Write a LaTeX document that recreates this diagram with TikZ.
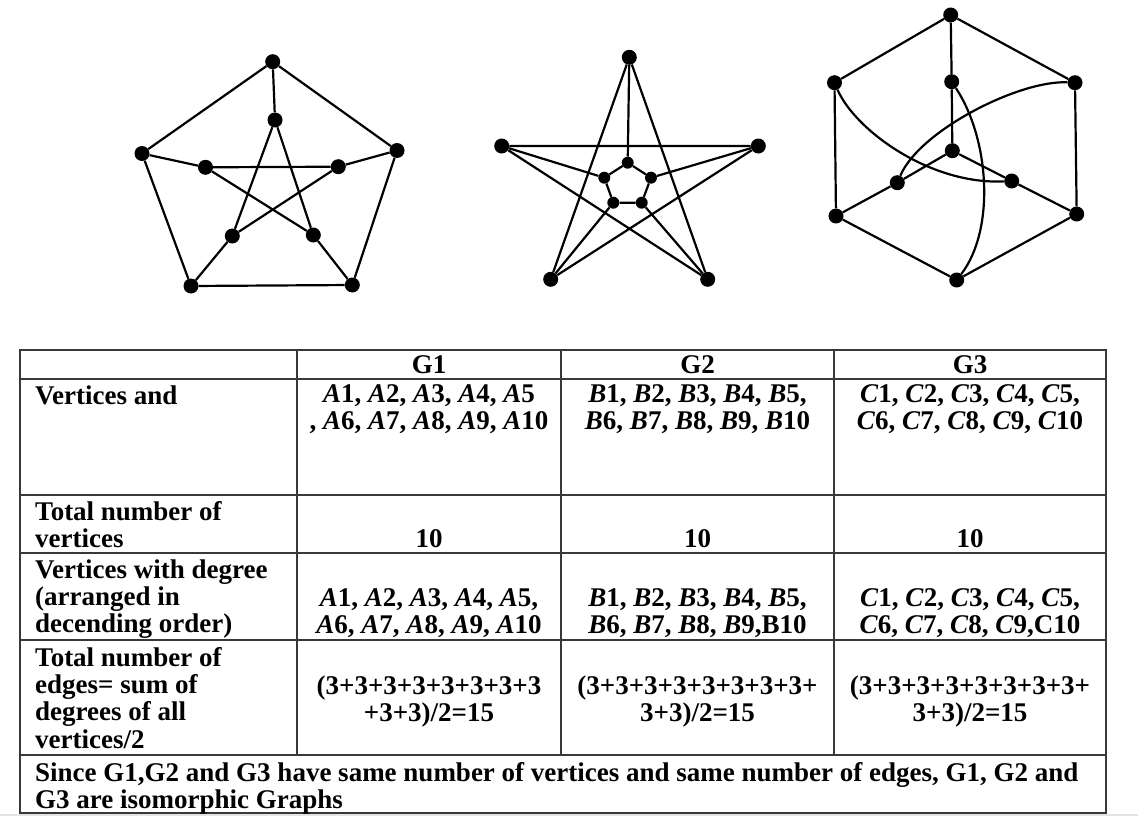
\documentclass[tikz,border=0pt]{standalone}
\usepackage{fontspec}
\setmainfont{Liberation Serif}
\newcommand\tabfont{\fontsize{27}{27.3}\selectfont\bfseries}
\newcommand\iv[2]{\textit{#1}#2}
\tikzset{
 dot/.style={circle,fill=black,inner sep=0pt,minimum size=15pt},
 sdot/.style={dot,minimum size=12pt},
 edge/.style={line width=2.2pt},
 gridline/.style={line width=1.5pt,draw=black!78},
 cell/.style={inner sep=0pt,anchor=north,align=center,font=\tabfont},
 lcell/.style={inner sep=0pt,anchor=north west,align=left,font=\tabfont},
}
\begin{document}
\begin{tikzpicture}[x=1pt,y=-1pt]
\useasboundingbox (0,0) rectangle (1138,816);
\fill[white] (0,0) rectangle (1138,816);
\fill[blue!8!gray!20] (0,813.5) rectangle (1138,816);

% ---------- G1 ----------
\node[dot] (a1) at (272.7,61.7) {};
\node[dot] (a2) at (142,153.5) {};
\node[dot] (a3) at (397,150.5) {};
\node[dot] (a4) at (191,286) {};
\node[dot] (a5) at (352.3,285) {};
\node[dot] (a6) at (275,120) {};
\node[dot] (a7) at (205.5,167.3) {};
\node[dot] (a8) at (338.3,166.7) {};
\node[dot] (a9) at (232.3,236) {};
\node[dot] (a10) at (313.3,235) {};
\draw[edge] (a1) -- (a2) (a1) -- (a3) (a2) -- (a4) (a3) -- (a5) (a4) -- (a5);
\draw[edge] (a1) -- (a6) (a2) -- (a7) (a3) -- (a8) (a4) -- (a9) (a5) -- (a10);
\draw[edge] (a6) -- (a9) (a6) -- (a10) (a7) -- (a8) (a7) -- (a10) (a8) -- (a9);

% ---------- G2 ----------
\node[dot] (b1) at (629.3,57.3) {};
\node[dot] (b2) at (501.7,146) {};
\node[dot] (b3) at (758.3,146) {};
\node[dot] (b4) at (550.7,279.3) {};
\node[dot] (b5) at (707.7,279.3) {};
\node[sdot] (b6) at (627.7,162.7) {};
\node[sdot] (b7) at (604.3,177.7) {};
\node[sdot] (b8) at (651,177.7) {};
\node[sdot] (b9) at (613.3,202.7) {};
\node[sdot] (b10) at (641.7,202.7) {};
\draw[edge] (b1) -- (b4) (b1) -- (b5) (b2) -- (b3) (b2) -- (b5) (b3) -- (b4);
\draw[edge] (b1) -- (b6) (b2) -- (b7) (b3) -- (b8) (b4) -- (b9) (b5) -- (b10);
\draw[edge] (b6) -- (b7) (b6) -- (b8) (b7) -- (b9) (b8) -- (b10) (b9) -- (b10);

% ---------- G3 ----------
\node[dot] (c1) at (950.7,15) {};
\node[dot] (c2) at (834.5,82.7) {};
\node[dot] (c3) at (1075,82.7) {};
\node[dot] (c4) at (836,216) {};
\node[dot] (c5) at (1076.7,214) {};
\node[dot] (c6) at (956.7,280) {};
\node[dot] (c7) at (951.7,81.7) {};
\node[dot] (c8) at (952.3,150.7) {};
\node[dot] (c9) at (897.3,182.7) {};
\node[dot] (c10) at (1011.7,181) {};
\draw[edge] (c1) -- (c2) (c1) -- (c3) (c2) -- (c4) (c3) -- (c5) (c4) -- (c6) (c5) -- (c6);
\draw[edge] (c1) -- (c7) (c7) -- (c8) (c8) -- (c9) (c8) -- (c10) (c9) -- (c4) (c10) -- (c5);
\draw[edge] (c2) .. controls (855,130) and (930,185) .. (c10);
\draw[edge] (c3) .. controls (1020,80) and (920,130) .. (c9);
\draw[edge] (c7) .. controls (990,140) and (995,230) .. (c6);

% ---------- table ----------
\draw[gridline] (20,350) rectangle (1106,813);
\foreach \yy in {379,495,553,640,755} \draw[gridline] (20,\yy) -- (1106,\yy);
\foreach \xx in {297,561,834} \draw[gridline] (\xx,350) -- (\xx,755);

\node[cell] (h1) at (429,353.9) {\strut G1};
\node[cell] (h2) at (697.5,353.9) {\strut G2};
\node[cell] (h3) at (970,353.9) {\strut G3};

\node[lcell] (l1) at (35,384.9) {\strut Vertices and};
\node[cell] (v11) at (429,382.9) {\strut\iv{A}1, \iv{A}2, \iv{A}3, \iv{A}4, \iv{A}5\\ , \iv{A}6, \iv{A}7, \iv{A}8, \iv{A}9, \iv{A}10};
\node[cell] (v12) at (697.5,382.9) {\strut\iv{B}1, \iv{B}2, \iv{B}3, \iv{B}4, \iv{B}5,\\ \iv{B}6, \iv{B}7, \iv{B}8, \iv{B}9, \iv{B}10};
\node[cell] (v13) at (970,382.9) {\strut\iv{C}1, \iv{C}2, \iv{C}3, \iv{C}4, \iv{C}5,\\ \iv{C}6, \iv{C}7, \iv{C}8, \iv{C}9, \iv{C}10};

\node[lcell] (l2) at (35,500.9) {\strut Total number of\\ vertices};
\node[cell] (v21) at (429,527.9) {\strut 10};
\node[cell] (v22) at (697.5,527.9) {\strut 10};
\node[cell] (v23) at (970,527.9) {\strut 10};

\node[lcell] (l3) at (35,558.9) {\strut Vertices with degree\\ (arranged in\\ decending order)};
\node[cell] (v31) at (429,586.9) {\strut\iv{A}1, \iv{A}2, \iv{A}3, \iv{A}4, \iv{A}5,\\ \iv{A}6, \iv{A}7, \iv{A}8, \iv{A}9, \iv{A}10};
\node[cell] (v32) at (697.5,586.9) {\strut\iv{B}1, \iv{B}2, \iv{B}3, \iv{B}4, \iv{B}5,\\ \iv{B}6, \iv{B}7, \iv{B}8, \iv{B}9,B10};
\node[cell] (v33) at (970,586.9) {\strut\iv{C}1, \iv{C}2, \iv{C}3, \iv{C}4, \iv{C}5,\\ \iv{C}6, \iv{C}7, \iv{C}8, \iv{C}9,C10};

\node[lcell] (l4) at (35,646.9) {\strut Total number of\\ edges= sum of\\ degrees of all\\ vertices/2};
\node[cell] (v41) at (429,674.9) {\strut (3+3+3+3+3+3+3+3\\ +3+3)/2=15};
\node[cell] (v42) at (697.5,674.9) {\strut (3+3+3+3+3+3+3+3+\\ 3+3)/2=15};
\node[cell] (v43) at (970,674.9) {\strut (3+3+3+3+3+3+3+3+\\ 3+3)/2=15};

\node[lcell] (l5) at (35,761.9) {\strut Since G1,G2 and G3 have same number of vertices and same number of edges, G1, G2 and\\ G3 are isomorphic Graphs};
\end{tikzpicture}
\end{document}
